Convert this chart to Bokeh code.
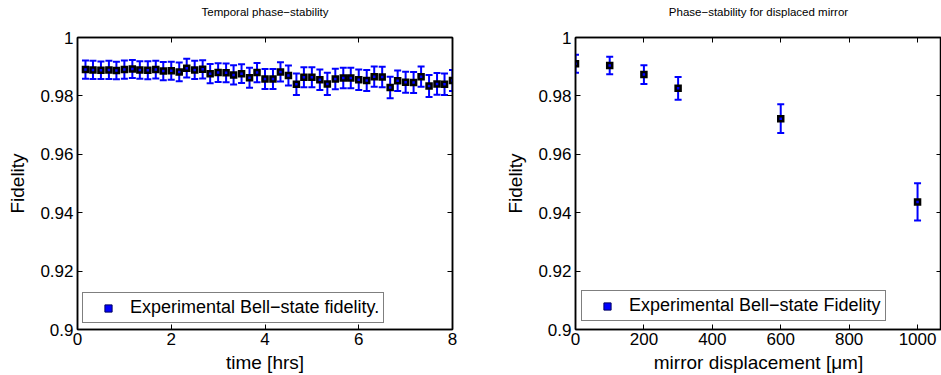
from bokeh.plotting import figure
from bokeh.models import (ColumnDataSource, Whisker, TeeHead, LinearAxis, FixedTicker,
                          CustomJSTickFormatter, Range1d, Legend, LegendItem)
from bokeh.layouts import row
from bokeh.embed import file_html
from bokeh.resources import INLINE

# ---------------- data ----------------
time_hrs = [0.17, 0.33, 0.5, 0.67, 0.83, 1.0, 1.17, 1.33, 1.5, 1.67, 1.83, 2.0,
            2.17, 2.33, 2.5, 2.67, 2.83, 3.0, 3.17, 3.33, 3.5, 3.67, 3.83, 4.0,
            4.17, 4.33, 4.5, 4.67, 4.83, 5.0, 5.17, 5.33, 5.5, 5.67, 5.83, 6.0,
            6.17, 6.33, 6.5, 6.67, 6.83, 7.0, 7.17, 7.33, 7.5, 7.67, 7.83, 8.0]
fid_time = [0.9890, 0.9889, 0.9888, 0.9889, 0.9887, 0.9890, 0.9892, 0.9889, 0.9888, 0.9890,
            0.9885, 0.9886, 0.9882, 0.9895, 0.9889, 0.9891, 0.9876, 0.9880, 0.9879, 0.9872,
            0.9876, 0.9862, 0.9880, 0.9858, 0.9858, 0.9882, 0.9870, 0.9840, 0.9864, 0.9864,
            0.9855, 0.9841, 0.9858, 0.9861, 0.9861, 0.9855, 0.9853, 0.9866, 0.9865, 0.9829,
            0.9852, 0.9847, 0.9846, 0.9866, 0.9834, 0.9841, 0.9840, 0.9853]
err_time = [0.0031, 0.0031, 0.0030, 0.0031, 0.0030, 0.0031, 0.0031, 0.0030, 0.0031, 0.0030,
            0.0031, 0.0031, 0.0032, 0.0032, 0.0031, 0.0031, 0.0033, 0.0032, 0.0032, 0.0033,
            0.0032, 0.0034, 0.0033, 0.0034, 0.0034, 0.0033, 0.0034, 0.0037, 0.0034, 0.0034,
            0.0035, 0.0038, 0.0035, 0.0035, 0.0035, 0.0035, 0.0036, 0.0035, 0.0035, 0.0037,
            0.0035, 0.0036, 0.0036, 0.0035, 0.0038, 0.0037, 0.0037, 0.0036]

displacement_um = [0, 100, 200, 300, 600, 1000]
fid_disp = [0.9910, 0.9904, 0.9873, 0.9826, 0.9722, 0.9437]
err_disp = [0.0031, 0.0030, 0.0032, 0.0039, 0.0049, 0.0064]

y_ticks = [0.9, 0.92, 0.94, 0.96, 0.98, 1.0]
x_ticks_time = [0, 2, 4, 6, 8]
x_ticks_disp = [0, 200, 400, 600, 800, 1000]

title_time = "Temporal phase\u2212stability"
title_disp = "Phase\u2212stability for displaced mirror"
xlabel_time = "time [hrs]"
xlabel_disp = "mirror displacement [\u03bcm]"
ylabel = "Fidelity"
legend_time = "Experimental Bell\u2212state fidelity."
legend_disp = "Experimental Bell\u2212state Fidelity"

FONT = "Liberation Sans"
num_fmt = "return String(Number(tick.toFixed(4)));"


def style_axis(ax, labels=True):
    ax.major_tick_in = 5
    ax.major_tick_out = 0
    ax.minor_tick_line_color = None
    ax.axis_line_color = "black"
    ax.axis_line_width = 1.5
    ax.major_tick_line_color = "black"
    ax.major_tick_line_width = 1
    ax.axis_label_text_font = FONT
    ax.axis_label_text_font_style = "normal"
    ax.axis_label_text_color = "black"
    if labels:
        ax.major_label_text_font = FONT
        ax.major_label_text_font_size = "17px"
        ax.major_label_text_color = "black"
        ax.axis_label_text_font_size = "19px"
    else:
        ax.formatter = CustomJSTickFormatter(code="return '';")
        ax.major_label_standoff = 0
        ax.major_label_text_font_size = "1px"


def make_plot(x, y, err, xr, xticks, title, xlabel, legend_text, width, bl, br, legend_loc):
    p = figure(width=width, height=375, x_range=Range1d(*xr), y_range=Range1d(0.9, 1.0),
               output_backend="svg", toolbar_location=None,
               min_border_left=bl, min_border_right=br, min_border_top=37, min_border_bottom=46)
    p.background_fill_color = "white"
    p.border_fill_color = "white"
    p.outline_line_color = "black"
    p.outline_line_width = 1.5
    p.xgrid.grid_line_color = None
    p.ygrid.grid_line_color = None

    p.xaxis.ticker = FixedTicker(ticks=xticks)
    p.xaxis.formatter = CustomJSTickFormatter(code=num_fmt)
    p.xaxis.axis_label = xlabel
    p.xaxis.major_label_standoff = 3
    p.xaxis.axis_label_standoff = 4
    style_axis(p.xaxis[0])

    p.yaxis.ticker = FixedTicker(ticks=y_ticks)
    p.yaxis.formatter = CustomJSTickFormatter(code=num_fmt)
    p.yaxis.axis_label = ylabel
    p.yaxis.major_label_standoff = 4
    p.yaxis.axis_label_standoff = 9
    style_axis(p.yaxis[0])

    # top axis carries the panel title as its label
    top = LinearAxis(ticker=FixedTicker(ticks=xticks), axis_label=title)
    style_axis(top, labels=False)
    top.axis_label_text_font_size = "11.5px"
    top.axis_label_standoff = 20
    p.add_layout(top, "above")
    right = LinearAxis(ticker=FixedTicker(ticks=y_ticks))
    style_axis(right, labels=False)
    p.add_layout(right, "right")

    src = ColumnDataSource(dict(x=x, y=y,
                                upper=[a + b for a, b in zip(y, err)],
                                lower=[a - b for a, b in zip(y, err)]))
    w = Whisker(source=src, base="x", upper="upper", lower="lower",
                line_color="blue", line_width=2,
                upper_head=TeeHead(size=7, line_color="blue", line_width=2),
                lower_head=TeeHead(size=7, line_color="blue", line_width=2))
    p.add_layout(w)
    p.scatter("x", "y", source=src, marker="square", size=5,
              fill_color="blue", line_color="black", line_width=2.5, line_join="miter")

    dummy = p.scatter([float("nan")], [float("nan")], marker="square", size=6,
                      fill_color="blue", line_color="#000060", line_width=1)
    leg = Legend(items=[LegendItem(label=legend_text, renderers=[dummy])],
                 location=legend_loc, border_line_color="black", border_line_width=1,
                 background_fill_color="white", background_fill_alpha=1,
                 label_text_font=FONT, label_text_font_size="18px", label_text_color="black",
                 glyph_width=42, glyph_height=18, label_height=18, label_standoff=1,
                 padding=4, spacing=0, margin=0)
    p.add_layout(leg)
    return p


p1 = make_plot(time_hrs, fid_time, err_time, (0, 8), x_ticks_time, title_time,
               xlabel_time, legend_time, 500, 77, 48, (5, 6))
p2 = make_plot(displacement_um, fid_disp, err_disp, (0, 1070), x_ticks_disp, title_disp,
               xlabel_disp, legend_disp, 441, 75, 0, (6, 8))

layout = row(p1, p2)
open("out.html", "w").write(file_html(layout, INLINE))
